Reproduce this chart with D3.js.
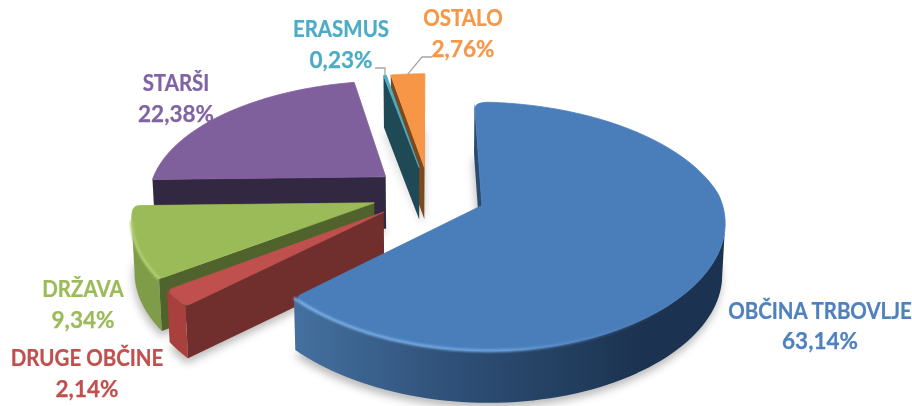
<!DOCTYPE html>
<html>
<head>
<meta charset="utf-8">
<script src="https://cdn.jsdelivr.net/npm/d3@7"></script>
<style>
  html, body { margin: 0; padding: 0; background: #fff; }
  text { font-family: Lato, "Open Sans", sans-serif; font-weight: 700; text-anchor: middle; }
</style>
</head>
<body>
<div id="chart"></div>
<script>
// data
var categories = ['OBČINA TRBOVLJE', 'DRUGE OBČINE', 'DRŽAVA', 'STARŠI', 'ERASMUS', 'OSTALO'];
var shares = [63.14, 2.14, 9.34, 22.38, 0.23, 2.76];

// styles, same order as the categories
var topColors = ['#4a7ebb', '#c0504d', '#9bbb59', '#7f609c', '#4bacc6', '#f79646'];
var sideColors = ['#2a4a70', '#702e2c', '#50632c', '#332842', '#1f4a55', '#7a4a1e'];
var rimColors = ['url(#blueSide)', '#a8403d', '#7f9c48', '#332842', '#1f4a55', '#7a4a1e'];
var textColors = ['#4f81bd', '#c0504d', '#9bbb59', '#8064a2', '#4bacc6', '#f79646'];
var cornerRound = [7, 6, 6, 0, 0, 0];

// label places: centre x, baseline of the name, baseline of the percent
var labelPlaces = [
    {x: 820, y1: 319, y2: 349},
    {x: 87, y1: 366, y2: 397},
    {x: 83, y1: 297, y2: 328},
    {x: 176, y1: 91, y2: 122},
    {x: 341, y1: 37, y2: 68},
    {x: 463, y1: 26, y2: 57}
];

var width = 912, height = 406;
var explode = 0.24;     // how far every slice is pulled out, in radii
var tilt = 0.166;       // perspective of the disc
var depth = 52;         // height of the pie in pixels
var paintOrder = [3, 5, 4, 2, 1, 0];

var x = d3.scaleLinear().domain([-1, 1]).range([429 - 238, 429 + 238]);
var y = d3.scaleLinear().domain([-1, 1]).range([194 + 117, 194 - 117]);

function project(wx, wy) {
    var w = 1 / (1 + tilt * wy);
    // the near half of the pie widens less than the far half narrows
    var wide = wy < 0 ? Math.pow(w, 0.7) : w;
    return [x(wx * wide), y(wy * w)];
}

var pie = d3.pie().sort(null).startAngle(0).endAngle(2 * Math.PI);
var slices = pie(shares).map(function (d, i) {
    var mid = (d.startAngle + d.endAngle) / 2;
    var ax = explode * Math.sin(mid), ay = explode * Math.cos(mid);
    var arc = d3.range(0, 121).map(function (k) {
        var a = d.startAngle + (d.endAngle - d.startAngle) * k / 120;
        return project(ax + Math.sin(a), ay + Math.cos(a));
    });
    return {
        index: i,
        apex: project(ax, ay),
        arc: arc,
        midPoint: project(ax + Math.sin(mid), ay + Math.cos(mid))
    };
});

var line = d3.line();

function lower(p) {
    return [x(x.invert(p[0]) * 0.99), p[1] + depth];
}

function wall(points) {
    return line(points.concat(points.slice().reverse().map(lower))) + 'Z';
}

function dist(a, b) {
    return Math.hypot(a[0] - b[0], a[1] - b[1]);
}

// point r pixels from corner on the way to target
function toward(corner, target, r) {
    var t = r / dist(corner, target);
    return [corner[0] + (target[0] - corner[0]) * t, corner[1] + (target[1] - corner[1]) * t];
}

// top face, with the two outer corners rounded off by r pixels
function outline(s) {
    var r = cornerRound[s.index];
    if (!r) { return line([s.apex].concat(s.arc)) + 'Z'; }
    var first = s.arc[0], last = s.arc[s.arc.length - 1];
    var inner = s.arc.filter(function (p) {
        return dist(p, first) > r && dist(p, last) > r;
    });
    var a = toward(first, s.apex, r), b = toward(last, s.apex, r);
    return 'M' + s.apex + 'L' + a + 'Q' + first + ' ' + inner[0] +
        line(inner).replace('M', 'L') +
        'Q' + last + ' ' + b + 'Z';
}

// parts of the rim that face the viewer
function visibleRuns(arc) {
    var runs = [], run = null;
    d3.pairs(arc).forEach(function (pair) {
        if (pair[1][0] < pair[0][0]) {
            if (!run) { run = [pair[0]]; runs.push(run); }
            run.push(pair[1]);
        } else {
            run = null;
        }
    });
    return runs;
}

var svg = d3.select('#chart').append('svg')
    .attr('width', width)
    .attr('height', height)
    .style('display', 'block');

var defs = svg.append('defs');

defs.append('filter').attr('id', 'soft')
    .attr('x', '-20%').attr('y', '-20%').attr('width', '140%').attr('height', '140%')
    .append('feGaussianBlur').attr('stdDeviation', 4);

defs.append('filter').attr('id', 'glow')
    .attr('x', '-10%').attr('y', '-10%').attr('width', '120%').attr('height', '120%')
    .append('feGaussianBlur').attr('stdDeviation', 1.3);

defs.append('filter').attr('id', 'textSoft')
    .append('feGaussianBlur').attr('stdDeviation', 0.4);

var sideGrad = defs.append('linearGradient').attr('id', 'blueSide')
    .attr('gradientUnits', 'userSpaceOnUse')
    .attr('x1', 297).attr('x2', 640).attr('y1', 0).attr('y2', 0);
sideGrad.append('stop').attr('offset', 0).attr('stop-color', '#44709f');
sideGrad.append('stop').attr('offset', 0.45).attr('stop-color', '#2f5078');
sideGrad.append('stop').attr('offset', 1).attr('stop-color', '#1b3350');

var rimGrad = defs.append('linearGradient').attr('id', 'blueRim')
    .attr('gradientUnits', 'userSpaceOnUse')
    .attr('x1', 297).attr('x2', 680).attr('y1', 0).attr('y2', 0);
rimGrad.append('stop').attr('offset', 0).attr('stop-color', '#7fb2ea');
rimGrad.append('stop').attr('offset', 0.55).attr('stop-color', '#6ea3dc');
rimGrad.append('stop').attr('offset', 1).attr('stop-color', '#4a7ebb').attr('stop-opacity', 0);

// shadow: the floor of each slice, blurred
svg.append('g').attr('filter', 'url(#soft)')
    .selectAll('path').data(slices).enter().append('path')
    .attr('d', function (s) { return line([s.apex].concat(s.arc).map(lower)) + 'Z'; })
    .attr('transform', 'translate(-1,5)')
    .attr('fill', '#000')
    .attr('opacity', 0.28);

var g = svg.selectAll('g.slice')
    .data(paintOrder.map(function (i) { return slices[i]; }))
    .enter().append('g').attr('class', 'slice');

g.each(function (s) {
    var el = d3.select(this);
    var last = s.arc[s.arc.length - 1];

    // straight walls
    [[s.apex, s.arc[0]], [last, s.apex]].forEach(function (edge) {
        if (edge[1][0] < edge[0][0]) {
            el.append('path').attr('d', wall(edge)).attr('fill', sideColors[s.index]);
        }
    });

    // round wall
    visibleRuns(s.arc).forEach(function (run) {
        el.append('path').attr('d', wall(run)).attr('fill', rimColors[s.index]);
    });

    // top face
    el.append('path')
        .attr('d', outline(s))
        .attr('fill', topColors[s.index])
        .attr('stroke', topColors[s.index])
        .attr('stroke-width', 0.8)
        .attr('stroke-linejoin', 'round');

    // bevel light along the front rim
    if (s.index === 0 || s.index === 2) {
        visibleRuns(s.arc).forEach(function (run) {
            el.append('path')
                .attr('d', line(run))
                .attr('fill', 'none')
                .attr('stroke', s.index === 0 ? 'url(#blueRim)' : '#b4d072')
                .attr('stroke-width', 2.8)
                .attr('filter', 'url(#glow)');
        });
    }
});

// leader lines for the two small slices
var leaders = [
    {slice: 4, from: [375, 68], knee: [385, 68]},
    {slice: 5, from: [432, 57], knee: [422, 57]}
];

svg.selectAll('path.leader').data(leaders).enter().append('path')
    .attr('class', 'leader')
    .attr('d', function (d) {
        return line([d.from, d.knee, slices[d.slice].midPoint]);
    })
    .attr('fill', 'none')
    .attr('stroke', '#a6a6a6')
    .attr('stroke-width', 1.3);

// labels
var percent = d3.formatLocale({decimal: ',', thousands: '.', grouping: [3], currency: ['', '']}).format('.2f');

var labels = svg.append('g').attr('filter', 'url(#textSoft)')
    .selectAll('g').data(categories).enter().append('g')
    .attr('fill', function (d, i) { return textColors[i]; })
    .attr('stroke', function (d, i) { return textColors[i]; })
    .attr('stroke-width', 0.25)
    .attr('font-size', 22.5);

labels.append('text')
    .attr('transform', function (d, i) {
        return 'translate(' + labelPlaces[i].x + ',' + labelPlaces[i].y1 + ') scale(0.91,1)';
    })
    .text(function (d) { return d; });

labels.append('text')
    .attr('x', function (d, i) { return labelPlaces[i].x; })
    .attr('y', function (d, i) { return labelPlaces[i].y2; })
    .text(function (d, i) { return percent(shares[i]) + '%'; });
</script>
</body>
</html>
